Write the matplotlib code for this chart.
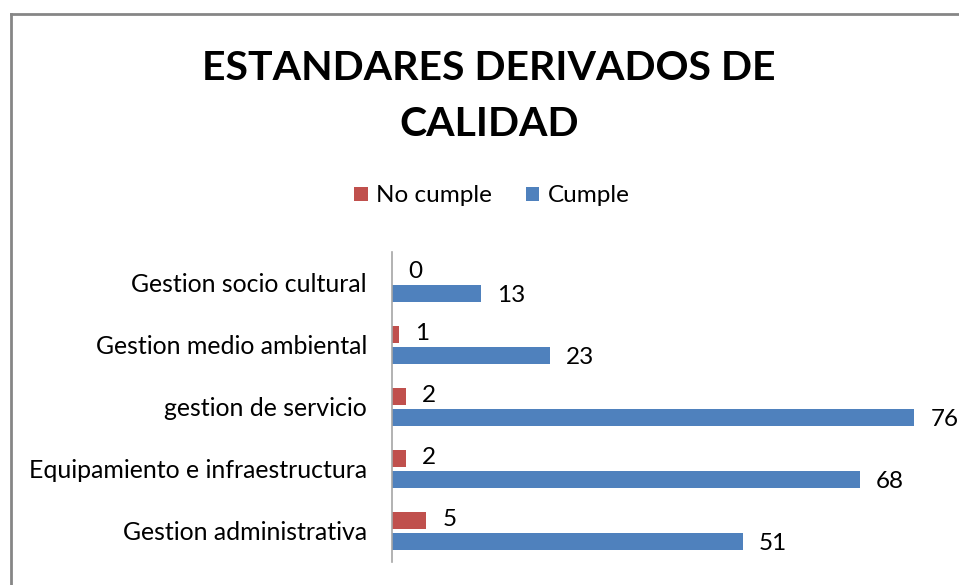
import numpy as np
import matplotlib.pyplot as plt
from matplotlib.lines import Line2D

# Datos
categorias = ['Gestion socio cultural', 'Gestion medio ambiental', 'gestion de servicio',
              'Equipamiento e infraestructura', 'Gestion administrativa']
no_cumple = [0, 1, 2, 2, 5]
cumple = [13, 23, 76, 68, 51]

rojo = '#C0504D'
azul = '#4F81BD'

plt.rcParams['font.family'] = ['Lato', 'DejaVu Sans']

fig = plt.figure(figsize=(9.59, 5.85), dpi=100)
ax = fig.add_axes([392/959, 23/585, 550/959, 310/585])

y = np.arange(len(categorias))
h = 0.26
off = 0.17
b_no = ax.barh(y - off, no_cumple, height=h, color=rojo, label='No cumple')
b_si = ax.barh(y + off, cumple, height=h, color=azul, label='Cumple')

fs = 17.5
for yy, v in zip(y - off, no_cumple):
    ax.annotate(str(v), (v, yy), xytext=(16, 1), textcoords='offset pixels',
                va='center', ha='left', fontsize=fs)
for yy, v in zip(y + off, cumple):
    ax.annotate(str(v), (v, yy), xytext=(16, -2), textcoords='offset pixels',
                va='center', ha='left', fontsize=fs)

ax.set_xlim(0, 80)
ax.set_ylim(len(categorias) - 0.5, -0.5)
ax.set_yticks(y)
ax.set_yticklabels(categorias, fontsize=17.9)
ax.tick_params(axis='y', length=0, pad=18)
for lbl in ax.get_yticklabels():
    lbl.set_y(lbl.get_position()[1])
ax.set_xticks([])
for s in ['top', 'right', 'bottom']:
    ax.spines[s].set_visible(False)
ax.spines['left'].set_color('#A6A6A6')
ax.spines['left'].set_linewidth(1.2)

fig.text(489/959, 1 - 68/585, 'ESTANDARES DERIVADOS DE', ha='center', va='center',
         fontsize=29.5, fontweight='bold')
fig.text(489/959, 1 - 124/585, 'CALIDAD', ha='center', va='center',
         fontsize=29.5, fontweight='bold')

fig.legend(handles=[b_no, b_si], labels=['No cumple', 'Cumple'], loc='center',
           bbox_to_anchor=(492/959, 1 - 196/585), ncol=2, frameon=False, fontsize=fs,
           handlelength=0.55, handleheight=0.55, handletextpad=0.35, columnspacing=1.4)

# marco del grafico
fig.add_artist(Line2D([11/959, 1], [1 - 14/585, 1 - 14/585], color='#868686', lw=2,
                      transform=fig.transFigure))
fig.add_artist(Line2D([11/959, 11/959], [0, 1 - 14/585], color='#868686', lw=2,
                      transform=fig.transFigure))

fig.savefig('out.png', dpi=100)
